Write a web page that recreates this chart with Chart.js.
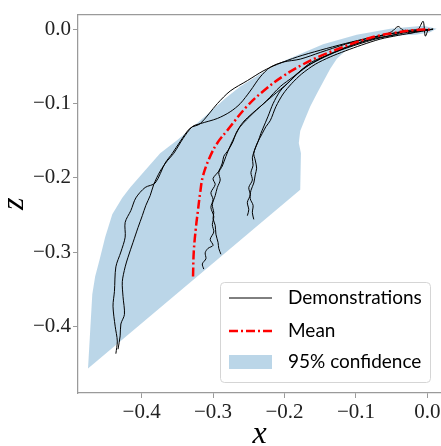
<!DOCTYPE html>
<html>
<head>
<meta charset="utf-8">
<script src="https://cdn.jsdelivr.net/npm/chart.js@4/dist/chart.umd.min.js"></script>
<style>
  html, body { margin: 0; padding: 0; background: #fff; }
</style>
</head>
<body>
<canvas id="chart" width="441" height="446"></canvas>
<script>
// demonstrations (x, z)
const demo1X = [-0.436, -0.434, -0.437, -0.440, -0.438, -0.436, -0.429, -0.423, -0.423, -0.415, -0.408, -0.395, -0.381, -0.367, -0.357, -0.346, -0.332, -0.318, -0.294, -0.276, -0.252, -0.230, -0.210, -0.182, -0.150, -0.115, -0.080, -0.048, -0.024, -0.003, 0.006];
const demo1Z = [-0.437, -0.420, -0.400, -0.373, -0.353, -0.320, -0.300, -0.280, -0.260, -0.244, -0.227, -0.213, -0.207, -0.180, -0.167, -0.151, -0.133, -0.127, -0.100, -0.083, -0.069, -0.056, -0.047, -0.037, -0.028, -0.019, -0.011, -0.005, -0.001, 0.000, 0.000];

const demo2X = [-0.433, -0.430, -0.429, -0.424, -0.426, -0.427, -0.423, -0.419, -0.412, -0.405, -0.399, -0.394, -0.388, -0.383, -0.374, -0.364, -0.355, -0.342, -0.329, -0.318, -0.294, -0.276, -0.262, -0.248, -0.234, -0.220, -0.202, -0.178, -0.150, -0.115, -0.087, -0.059, -0.031, -0.010, 0.006];
const demo2Z = [-0.431, -0.413, -0.397, -0.384, -0.360, -0.340, -0.320, -0.307, -0.287, -0.267, -0.251, -0.237, -0.224, -0.209, -0.191, -0.177, -0.167, -0.147, -0.131, -0.127, -0.120, -0.111, -0.100, -0.083, -0.064, -0.051, -0.044, -0.040, -0.031, -0.020, -0.013, -0.007, -0.003, -0.001, 0.000];

const demo3X = [-0.313, -0.315, -0.310, -0.311, -0.307, -0.300, -0.304, -0.299, -0.301, -0.299, -0.303, -0.300, -0.303, -0.297, -0.300, -0.292, -0.287, -0.285, -0.279, -0.272, -0.268, -0.258, -0.245, -0.234, -0.216, -0.196, -0.182, -0.164, -0.143, -0.122, -0.094, -0.066, -0.050, -0.041, -0.034, -0.017, -0.003, 0.006];
const demo3Z = [-0.323, -0.316, -0.309, -0.301, -0.295, -0.291, -0.283, -0.273, -0.263, -0.252, -0.240, -0.229, -0.220, -0.209, -0.201, -0.191, -0.180, -0.171, -0.163, -0.151, -0.140, -0.125, -0.113, -0.104, -0.089, -0.073, -0.060, -0.047, -0.036, -0.027, -0.017, -0.009, -0.003, 0.004, -0.001, -0.003, -0.001, 0.000];

const demo4X = [-0.289, -0.292, -0.293, -0.296, -0.297, -0.300, -0.299, -0.301, -0.297, -0.294, -0.290, -0.292, -0.287, -0.282, -0.276, -0.269, -0.262, -0.244, -0.225, -0.206, -0.188, -0.171, -0.150, -0.125, -0.101, -0.073, -0.045, -0.031, -0.024, -0.013, -0.006, -0.003, 0.001];
const demo4Z = [-0.303, -0.295, -0.287, -0.276, -0.264, -0.255, -0.247, -0.236, -0.224, -0.213, -0.203, -0.193, -0.184, -0.171, -0.157, -0.143, -0.131, -0.113, -0.096, -0.077, -0.064, -0.051, -0.040, -0.029, -0.020, -0.012, -0.007, -0.001, -0.005, 0.000, 0.011, -0.009, 0.000];

const demo5X = [-0.252, -0.250, -0.252, -0.248, -0.250, -0.245, -0.247, -0.244, -0.245, -0.242, -0.237, -0.233, -0.230, -0.223, -0.216, -0.206, -0.192, -0.178, -0.162, -0.143, -0.122, -0.097, -0.073, -0.045, -0.022, -0.003, 0.008];
const demo5Z = [-0.251, -0.243, -0.233, -0.223, -0.213, -0.203, -0.193, -0.183, -0.173, -0.163, -0.151, -0.140, -0.133, -0.117, -0.100, -0.083, -0.069, -0.056, -0.044, -0.036, -0.028, -0.020, -0.013, -0.007, -0.003, -0.001, 0.000];

const demo6X = [-0.243, -0.245, -0.244, -0.248, -0.247, -0.243, -0.241, -0.239, -0.241, -0.243, -0.238, -0.231, -0.226, -0.220, -0.212, -0.202, -0.190, -0.176, -0.157, -0.136, -0.115, -0.092, -0.066, -0.041, -0.017, 0.001, 0.008];
const demo6Z = [-0.256, -0.247, -0.237, -0.228, -0.217, -0.207, -0.196, -0.187, -0.176, -0.167, -0.153, -0.140, -0.131, -0.123, -0.104, -0.087, -0.073, -0.060, -0.047, -0.037, -0.029, -0.021, -0.013, -0.008, -0.004, -0.001, 0.001];

// mean trajectory
const meanX = [-0.328, -0.327, -0.324, -0.321, -0.318, -0.314, -0.304, -0.294, -0.280, -0.252, -0.227, -0.202, -0.174, -0.150, -0.127, -0.099, -0.071, -0.048, -0.020, 0.003];
const meanZ = [-0.333, -0.300, -0.267, -0.243, -0.220, -0.197, -0.171, -0.153, -0.136, -0.103, -0.081, -0.063, -0.047, -0.036, -0.027, -0.017, -0.009, -0.005, -0.001, 0.000];

// 95% band outline (upper edge then back along the lower edge)
const bandX = [-0.475, -0.472, -0.469, -0.465, -0.459, -0.451, -0.441, -0.427, -0.416, -0.398, -0.374, -0.350, -0.328, -0.304, -0.283, -0.262, -0.234, -0.202, -0.178, -0.146, -0.099, -0.052, -0.006, 0.013,
               0.003, -0.017, -0.038, -0.059, -0.080, -0.101, -0.115, -0.127, -0.136, -0.146, -0.155, -0.164, -0.171, -0.178, -0.180, -0.177, -0.178, -0.178];
const bandZ = [-0.457, -0.407, -0.357, -0.333, -0.311, -0.280, -0.249, -0.227, -0.213, -0.193, -0.167, -0.149, -0.131, -0.111, -0.093, -0.077, -0.060, -0.043, -0.033, -0.020, -0.007, 0.001, 0.005, 0.001,
               -0.004, -0.007, -0.008, -0.011, -0.015, -0.021, -0.029, -0.040, -0.053, -0.071, -0.087, -0.104, -0.120, -0.137, -0.153, -0.167, -0.193, -0.216];

const xTicks = [-0.4, -0.3, -0.2, -0.1, 0.0];
const zTicks = [0.0, -0.1, -0.2, -0.3, -0.4];
const legendLabels = ['Demonstrations', 'Mean', '95% confidence'];

const toPoints = (xs, zs) => xs.map((x, i) => ({ x: x, y: zs[i] }));

const serif = "'Liberation Serif', 'Times New Roman', serif";
const spine = '#9a9a9a';
const fmt = v => (v < 0 ? '\u2212' : '') + Math.abs(v).toFixed(1);

function demoSet(xs, zs) {
    return {
        data: toPoints(xs, zs),
        showLine: true,
        borderColor: '#000',
        borderWidth: 1,
        pointRadius: 0,
        tension: 0.3,
        fill: false,
        order: 1
    };
}

// legend box drawn in the lower right of the plot
const boxLegend = {
    id: 'boxLegend',
    afterDraw(chart) {
        const ctx = chart.ctx;
        const a = chart.chartArea;
        const left = a.right - 221, top = a.bottom - 111, w = 210, h = 100;
        ctx.save();
        ctx.beginPath();
        ctx.roundRect(left + 0.5, top + 0.5, w, h, 4);
        ctx.fillStyle = 'rgba(255,255,255,0.8)';
        ctx.fill();
        ctx.strokeStyle = '#d5d5d5';
        ctx.lineWidth = 1;
        ctx.stroke();

        const rows = [top + 16, top + 49, top + 80];
        const sx0 = left + 9, sx1 = left + 52;

        ctx.strokeStyle = '#000';
        ctx.lineWidth = 1;
        ctx.beginPath();
        ctx.moveTo(sx0, rows[0]); ctx.lineTo(sx1, rows[0]);
        ctx.stroke();

        ctx.strokeStyle = 'red';
        ctx.lineWidth = 2.5;
        ctx.setLineDash([9, 3, 2, 3]);
        ctx.beginPath();
        ctx.moveTo(sx0, rows[1]); ctx.lineTo(sx1, rows[1]);
        ctx.stroke();
        ctx.setLineDash([]);

        ctx.fillStyle = 'rgba(31,119,180,0.3)';
        ctx.fillRect(sx0, rows[2] - 7, sx1 - sx0, 14);

        ctx.fillStyle = '#000';
        ctx.font = '19px Lato';
        ctx.textBaseline = 'middle';
        legendLabels.forEach((t, i) => ctx.fillText(t, left + 68, rows[i]));
        ctx.restore();
    }
};

const ctx = document.getElementById('chart').getContext('2d');
new Chart(ctx, {
    type: 'scatter',
    data: {
        datasets: [
            {
                data: toPoints(meanX, meanZ),
                showLine: true,
                borderColor: 'red',
                borderWidth: 2.5,
                borderDash: [9, 3, 2, 3],
                pointRadius: 0,
                tension: 0.4,
                fill: false,
                order: 0
            },
            demoSet(demo1X, demo1Z),
            demoSet(demo2X, demo2Z),
            demoSet(demo3X, demo3Z),
            demoSet(demo4X, demo4Z),
            demoSet(demo5X, demo5Z),
            demoSet(demo6X, demo6Z),
            {
                data: toPoints(bandX, bandZ),
                showLine: true,
                borderColor: 'rgba(0,0,0,0)',
                borderWidth: 0,
                backgroundColor: 'rgba(31,119,180,0.3)',
                pointRadius: 0,
                tension: 0,
                fill: 'shape',
                order: 2
            }
        ]
    },
    options: {
        responsive: false,
        animation: false,
        devicePixelRatio: 1,
        layout: { padding: 0 },
        plugins: {
            legend: { display: false },
            tooltip: { enabled: false }
        },
        scales: {
            x: {
                type: 'linear',
                position: 'bottom',
                min: -0.489,
                max: 0.019,
                afterBuildTicks: s => { s.ticks = xTicks.map(v => ({ value: v })); },
                afterFit: s => { s.height = 53; s.paddingLeft = 0; s.paddingRight = 0; },
                grid: { display: true, drawOnChartArea: false, drawTicks: true, tickLength: 5, color: spine },
                border: { display: true, color: spine, width: 1.25 },
                ticks: { font: { family: serif, size: 21 }, color: '#222', padding: 2, maxRotation: 0, callback: fmt },
                title: { display: true, text: 'x', font: { family: serif, size: 32, style: 'italic' }, color: '#000', padding: { top: 0, bottom: -8 } }
            },
            xTop: {
                type: 'linear',
                position: 'top',
                min: -0.489,
                max: 0.019,
                afterFit: s => { s.height = 10; s.paddingLeft = 0; s.paddingRight = 0; },
                grid: { display: false },
                border: { display: true, color: spine, width: 1.25 },
                ticks: { display: false }
            },
            y: {
                type: 'linear',
                position: 'left',
                min: -0.49,
                max: 0.02,
                afterBuildTicks: s => { s.ticks = zTicks.map(v => ({ value: v })); },
                afterFit: s => { s.width = 78; },
                grid: { display: true, drawOnChartArea: false, drawTicks: true, tickLength: 5, color: spine },
                border: { display: true, color: spine, width: 1.25 },
                ticks: { font: { family: serif, size: 21 }, color: '#222', padding: 2, callback: fmt },
                title: { display: true, text: 'z', font: { family: serif, size: 32, style: 'italic' }, color: '#000', padding: { top: -5, bottom: 0 } }
            }
        }
    },
    plugins: [boxLegend]
});
</script>
</body>
</html>
